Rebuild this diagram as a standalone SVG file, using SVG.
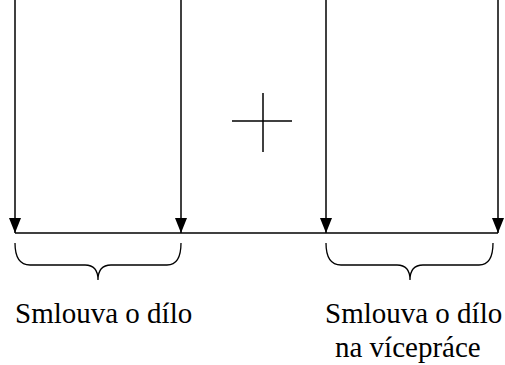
<svg xmlns="http://www.w3.org/2000/svg" width="505" height="365" viewBox="0 0 505 365">
<defs>
<marker id="ah" markerWidth="16" markerHeight="12" refX="15" refY="6" orient="auto" markerUnits="userSpaceOnUse" viewBox="0 0 16 12">
<path d="M0,0 L15,6 L0,12 Z" fill="#000"/>
</marker>
<style>
.ln{stroke:#000;stroke-width:1.5;fill:none}
.br{stroke:#000;stroke-width:1.3;fill:none}
.t{font-family:"Liberation Serif","Times New Roman",serif;font-size:29px;fill:#000}
</style>
</defs>
<rect width="505" height="365" fill="#fff"/>
<g id="connectors">
<line class="ln" x1="15" y1="0" x2="15" y2="233" marker-end="url(#ah)"/>
<line class="ln" x1="181" y1="0" x2="181" y2="233" marker-end="url(#ah)"/>
<line class="ln" x1="326" y1="0" x2="326" y2="233" marker-end="url(#ah)"/>
<line class="ln" x1="498" y1="0" x2="498" y2="233" marker-end="url(#ah)"/>
</g>
<g id="timeline">
<line class="ln" x1="15" y1="233" x2="498" y2="233"/>
</g>
<g id="plus">
<line class="ln" x1="232" y1="121" x2="292" y2="121"/>
<line class="ln" x1="263" y1="93" x2="263" y2="152"/>
</g>
<g id="brace1">
<path class="br" d="M15,243 Q15,265 30,265 L85,265 Q98,265 98,280 Q98,265 111,265 L167,265 Q181,265 181,243"/>
</g>
<g id="brace2">
<path class="br" d="M326,243 Q326,265 341,265 L397,265 Q410,265 410,280 Q410,265 423,265 L479,265 Q493,265 493,243"/>
</g>
<g id="label1">
<text class="t" x="15" y="323">Smlouva o dílo</text>
</g>
<g id="label2">
<text class="t" x="325" y="323">Smlouva o dílo</text>
<text class="t" x="335" y="357">na vícepráce</text>
</g>
</svg>
